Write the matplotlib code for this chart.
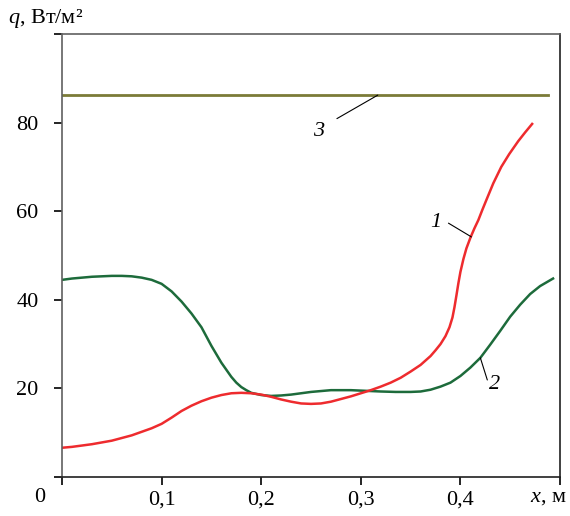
import matplotlib
matplotlib.use("Agg")
import matplotlib.pyplot as plt

# curve 1 (red)
x1 = [0.0, 0.01, 0.02, 0.03, 0.04, 0.05, 0.06, 0.07, 0.08, 0.09, 0.10, 0.11,
      0.12, 0.13, 0.14, 0.15, 0.16, 0.17, 0.18, 0.19, 0.20, 0.21, 0.22, 0.23,
      0.24, 0.25, 0.26, 0.27, 0.28, 0.29, 0.30, 0.31, 0.32, 0.33, 0.34, 0.35,
      0.36, 0.37, 0.375, 0.38, 0.385, 0.389, 0.392, 0.394, 0.396, 0.398, 0.40,
      0.403, 0.406, 0.41, 0.414, 0.418, 0.422, 0.426, 0.433, 0.441, 0.449,
      0.458, 0.465, 0.472]
q1 = [6.6, 6.8, 7.1, 7.4, 7.8, 8.2, 8.8, 9.4, 10.2, 11.0, 12.0, 13.4,
      14.9, 16.1, 17.1, 17.9, 18.5, 18.9, 19.0, 18.9, 18.6, 18.1, 17.5, 17.0,
      16.6, 16.5, 16.6, 17.0, 17.6, 18.2, 18.9, 19.6, 20.4, 21.3, 22.4, 23.8,
      25.3, 27.3, 28.6, 30.0, 31.8, 33.8, 36.0, 38.3, 41.0, 43.8, 46.3,
      49.2, 51.6, 54.0, 56.1, 58.0, 60.3, 62.5, 66.3, 70.0, 72.9,
      75.8, 77.8, 79.7]

# curve 2 (green)
x2 = [0.0, 0.01, 0.02, 0.03, 0.04, 0.05, 0.06, 0.07, 0.08, 0.09, 0.10, 0.11,
      0.12, 0.13, 0.14, 0.15, 0.16, 0.17, 0.175, 0.18, 0.185, 0.19, 0.20, 0.21,
      0.22, 0.23, 0.24, 0.25, 0.26, 0.27, 0.28, 0.29, 0.30, 0.31, 0.32, 0.335,
      0.35, 0.36, 0.37, 0.38, 0.39, 0.40, 0.41, 0.42, 0.43, 0.44, 0.45, 0.46,
      0.47, 0.48, 0.493]
q2 = [44.5, 44.8, 45.0, 45.2, 45.3, 45.4, 45.4, 45.3, 45.0, 44.5, 43.6, 41.9,
      39.6, 36.9, 33.8, 29.6, 25.8, 22.6, 21.3, 20.3, 19.6, 19.0, 18.5, 18.3,
      18.4, 18.6, 18.9, 19.2, 19.4, 19.6, 19.6, 19.6, 19.5, 19.4, 19.3, 19.2,
      19.2, 19.3, 19.7, 20.4, 21.3, 22.8, 24.7, 26.9, 29.9, 33.0, 36.2, 38.9,
      41.3, 43.1, 44.8]

# curve 3 (constant)
x3 = [0.0, 0.488]
q3 = [86.2, 86.2]

xticks = [0.0, 0.1, 0.2, 0.3, 0.4, 0.5]
xlabels = ['', '0,1', '0,2', '0,3', '0,4', '']
yticks = [0, 20, 40, 60, 80, 100]
ylabels = ['', '20', '40', '60', '80', '']

plt.rcParams['font.family'] = ['Liberation Serif', 'DejaVu Serif']
plt.rcParams['mathtext.fontset'] = 'custom'
plt.rcParams['mathtext.rm'] = 'Liberation Serif'
plt.rcParams['mathtext.it'] = 'Liberation Serif:italic'

fig = plt.figure(figsize=(5.7, 5.16), dpi=100)
ax = fig.add_axes([0.1088, 0.0756, 0.8737, 0.8585])

ax.plot(x3, q3, color='#7b7b38', lw=2.0)
ax.plot(x2, q2, color='#1d6b3b', lw=1.8, solid_joinstyle='round')
ax.plot(x1, q1, color='#ee2b2e', lw=1.8, solid_joinstyle='round')

ax.set_xlim(0, 0.5)
ax.set_ylim(0, 100)
ax.set_xticks(xticks)
ax.set_xticklabels(xlabels)
ax.set_yticks(yticks)
ax.set_yticklabels(ylabels)
ax.tick_params(axis='both', direction='out', length=6, width=1.2, labelsize=16)
ax.tick_params(axis='y', pad=11)
ax.tick_params(axis='x', pad=4)

for side in ['left', 'top']:
    ax.spines[side].set_color('#606060')
for side in ['bottom', 'right']:
    ax.spines[side].set_color('#202020')
for s in ax.spines.values():
    s.set_linewidth(1.2)

# curve labels with leader lines
leader = dict(arrowstyle='-', color='black', lw=0.8, shrinkA=0, shrinkB=0)
ax.annotate('', xy=(0.317, 86.2), xytext=(0.276, 80.9), arrowprops=leader)
ax.text(0.258, 78.1, '3', fontsize=16, style='italic', ha='center', va='center')
ax.annotate('', xy=(0.411, 54.2), xytext=(0.388, 57.3), arrowprops=leader)
ax.text(0.375, 57.5, '1', fontsize=16, style='italic', ha='center', va='center')
ax.annotate('', xy=(0.42, 26.9), xytext=(0.427, 21.9), arrowprops=leader)
ax.text(0.434, 20.9, '2', fontsize=16, style='italic', ha='center', va='center')

fig.text(0.014, 0.965, '$q$, Вт/м²', fontsize=16, ha='left', va='center')
fig.text(0.93, 0.035, '$x$, м', fontsize=16, ha='left', va='center')
fig.text(40 / 570, 0.035, '0', fontsize=16, ha='center', va='center')

fig.savefig('out.png', dpi=100)
